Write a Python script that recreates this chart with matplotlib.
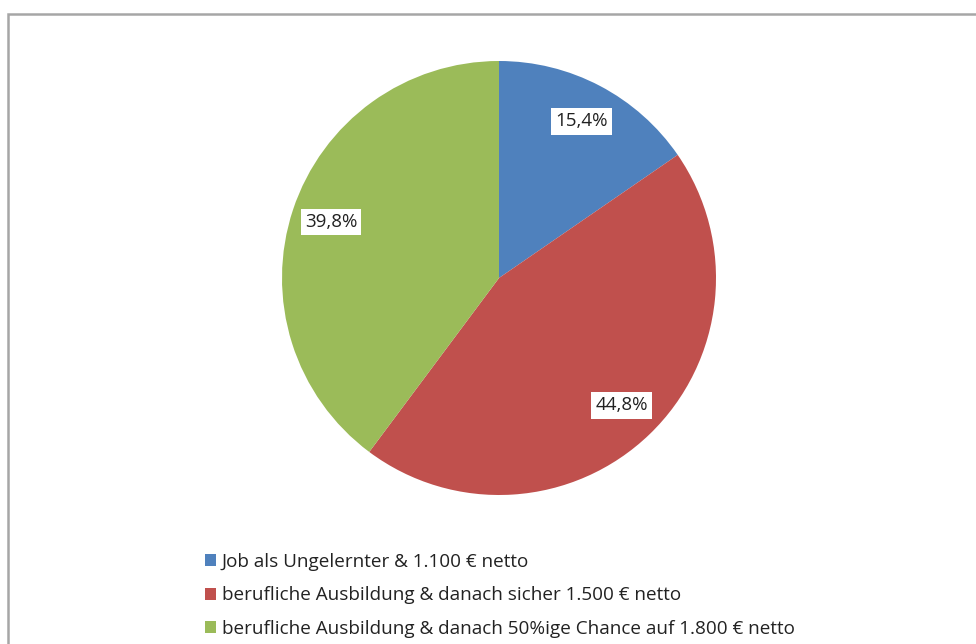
import matplotlib
matplotlib.use("Agg")
import matplotlib.pyplot as plt
from matplotlib.patches import Rectangle

categories = [
    "Job als Ungelernter & 1.100 € netto",
    "berufliche Ausbildung & danach sicher 1.500 € netto",
    "berufliche Ausbildung & danach 50%ige Chance auf 1.800 € netto",
]
values = [15.4, 44.8, 39.8]
colors = ["#4F81BD", "#C0504D", "#9BBB59"]

plt.rcParams['font.family'] = ['Open Sans', 'DejaVu Sans']

W, H = 976, 644
fig = plt.figure(figsize=(W / 100, H / 100), dpi=100)

# chart frame
fig.patches.append(Rectangle((8 / W, -0.05), 1.2, (H - 14) / H + 0.05,
                             transform=fig.transFigure, fill=False,
                             edgecolor="#A6A6A6", linewidth=1.8))

cx, cy, r = 499, H - 278, 217
ax = fig.add_axes([(cx - r) / W, (cy - r) / H, 2 * r / W, 2 * r / H])

def fmt(p):
    return f"{p:.1f}".replace(".", ",") + "%"

wedges, texts, autotexts = ax.pie(values, colors=colors, startangle=90,
                                  counterclock=False, autopct=fmt,
                                  pctdistance=0.815, radius=1,
                                  wedgeprops=dict(linewidth=0))
for t in autotexts:
    t.set_fontsize(13.5)
    t.set_color("#222222")
    t.set_bbox(dict(facecolor="white", edgecolor="none", pad=3))
ax.set_xlim(-1, 1)
ax.set_ylim(-1, 1)
ax.set_aspect("equal")
ax.axis("off")

leg = fig.legend(wedges, categories, loc="upper left",
                 bbox_to_anchor=(205 / W, (H - 553) / H),
                 frameon=False, fontsize=13.6, handlelength=0.6,
                 handleheight=0.6, handletextpad=0.3, labelspacing=0.82,
                 borderaxespad=0, borderpad=0)
for t in leg.get_texts():
    t.set_color("#222222")

fig.savefig("out.png", dpi=100)
